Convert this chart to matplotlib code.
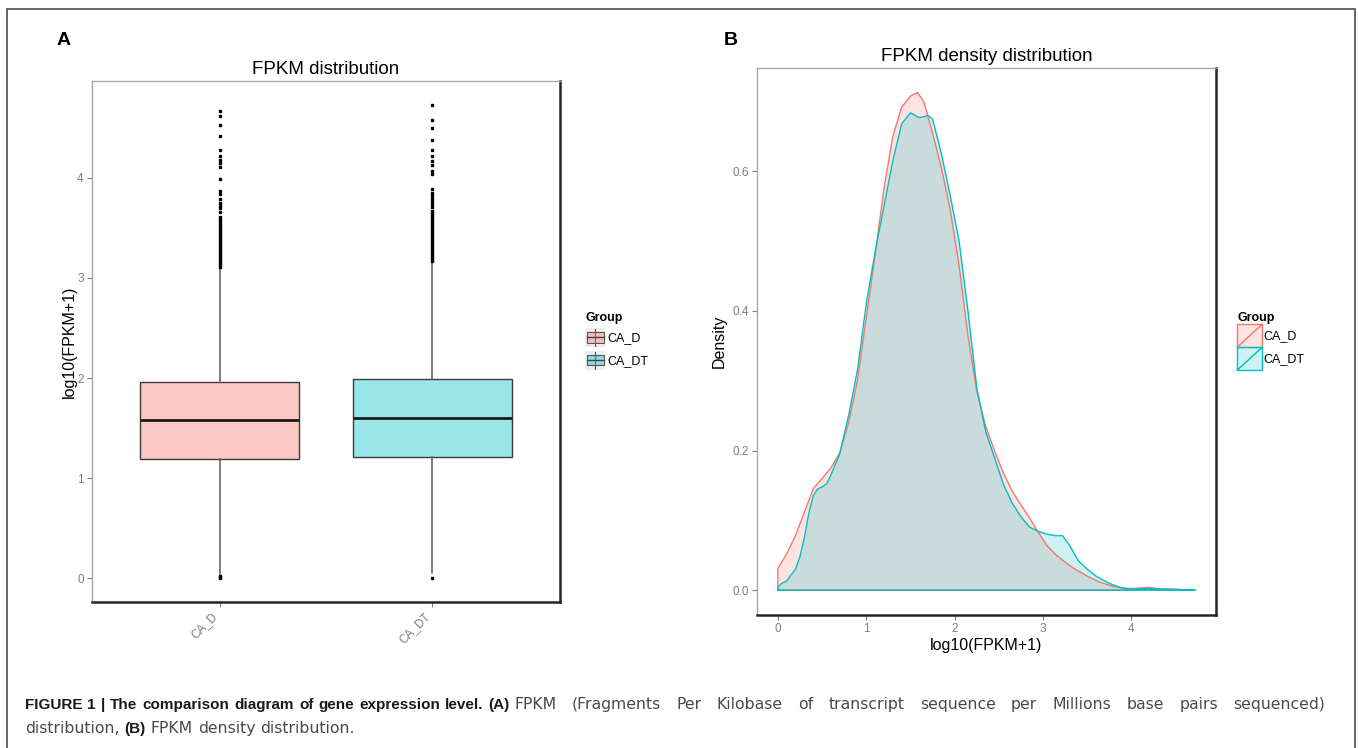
"""FPKM distribution (box) and density comparison for CA_D vs CA_DT."""

import matplotlib
matplotlib.use('Agg')
import matplotlib.pyplot as plt
import numpy as np
from matplotlib.legend_handler import HandlerBase
from matplotlib.lines import Line2D
from matplotlib.patches import Patch, Rectangle
from matplotlib.font_manager import fontManager


GROUPS = ['CA_D', 'CA_DT']
COLORS = {'CA_D': '#F8766D', 'CA_DT': '#00BFC4'}

# box summaries, log10(FPKM+1)
BOX_MED = [1.578, 1.598]
BOX_Q1 = [1.190, 1.209]
BOX_Q3 = [1.957, 1.990]
WHIS_LO = [0.045, 0.050]
WHIS_HI = [3.100, 3.155]

FLIERS_D = [0.0, 0.012, 0.025,
            3.11, 3.13, 3.15, 3.17, 3.19, 3.21, 3.23, 3.25, 3.27, 3.29, 3.31, 3.33, 3.35,
            3.37, 3.39, 3.41, 3.43, 3.45, 3.47, 3.49, 3.51, 3.53, 3.55, 3.57, 3.59, 3.61,
            3.66, 3.70, 3.72, 3.75, 3.79, 3.84, 3.87, 3.99, 4.11, 4.15, 4.18, 4.22,
            4.28, 4.42, 4.53, 4.62, 4.67]
FLIERS_DT = [0.0,
             3.17, 3.19, 3.21, 3.23, 3.25, 3.27, 3.29, 3.31, 3.33, 3.35, 3.37, 3.39, 3.41,
             3.43, 3.45, 3.47, 3.49, 3.51, 3.53, 3.55, 3.57, 3.59, 3.61, 3.63, 3.65, 3.67,
             3.71, 3.74, 3.77, 3.80, 3.83, 3.85, 3.89, 4.04, 4.07, 4.13, 4.17, 4.22,
             4.28, 4.38, 4.50, 4.58, 4.73]

# density curves
DENS_X_D = [0.00, 0.10, 0.20, 0.30, 0.40, 0.50, 0.60, 0.70, 0.80, 0.90, 1.00, 1.10,
            1.20, 1.30, 1.40, 1.50, 1.58, 1.65, 1.75, 1.85, 1.95, 2.05, 2.15, 2.25,
            2.35, 2.45, 2.55, 2.65, 2.75, 2.85, 2.95, 3.05, 3.15, 3.25, 3.35, 3.50,
            3.65, 3.80, 3.95, 4.10, 4.20, 4.30, 4.50, 4.72]
DENS_Y_D = [0.031, 0.052, 0.078, 0.112, 0.145, 0.160, 0.175, 0.197, 0.240, 0.300, 0.390, 0.480,
            0.575, 0.650, 0.692, 0.708, 0.713, 0.700, 0.655, 0.605, 0.545, 0.465, 0.365, 0.285,
            0.235, 0.200, 0.168, 0.142, 0.122, 0.103, 0.082, 0.063, 0.050, 0.040, 0.031, 0.020,
            0.011, 0.005, 0.002, 0.003, 0.004, 0.002, 0.001, 0.000]
DENS_X_DT = [0.00, 0.05, 0.10, 0.15, 0.20, 0.25, 0.30, 0.35, 0.40, 0.45, 0.50, 0.55,
             0.60, 0.70, 0.80, 0.90, 1.00, 1.10, 1.20, 1.30, 1.40, 1.50, 1.60, 1.70,
             1.75, 1.85, 1.95, 2.05, 2.15, 2.25, 2.35, 2.45, 2.55, 2.65, 2.75, 2.85,
             2.95, 3.05, 3.15, 3.22, 3.30, 3.40, 3.50, 3.60, 3.70, 3.80, 3.90, 4.00,
             4.20, 4.50, 4.72]
DENS_Y_DT = [0.005, 0.010, 0.013, 0.022, 0.030, 0.048, 0.075, 0.110, 0.135, 0.145, 0.148, 0.152,
             0.165, 0.195, 0.250, 0.315, 0.410, 0.485, 0.550, 0.615, 0.668, 0.684, 0.677, 0.680,
             0.675, 0.625, 0.565, 0.500, 0.400, 0.290, 0.228, 0.190, 0.152, 0.125, 0.105, 0.090,
             0.084, 0.080, 0.078, 0.078, 0.064, 0.042, 0.030, 0.020, 0.013, 0.007, 0.003, 0.002,
             0.002, 0.001, 0.000]

BOX_YTICKS = [0, 1, 2, 3, 4]
DENS_XTICKS = [0, 1, 2, 3, 4]
DENS_YTICKS = [0.0, 0.2, 0.4, 0.6]

CAPTION_LINE1 = [('FIGURE 1 | The comparison diagram of gene expression level.', 'bold'),
                 ('(A)', 'bold'),
                 ('FPKM (Fragments Per Kilobase of transcript sequence per Millions base pairs sequenced)', 'normal')]
CAPTION_LINE2 = [('distribution,', 'normal'), ('(B)', 'bold'), ('FPKM density distribution.', 'normal')]

W, H = 1358, 748
TICK_GREY = '#7f7f7f'

_names = {f.name for f in fontManager.ttflist}
FONT = 'Liberation Sans' if 'Liberation Sans' in _names else 'DejaVu Sans'
plt.rcParams['font.family'] = [FONT, 'DejaVu Sans']


def px(x, y):
    """pixel position (from top-left) -> figure fraction"""
    return x / W, 1 - y / H


def style_axes(ax):
    for side in ('top', 'left'):
        ax.spines[side].set_color('#a8a8a8')
        ax.spines[side].set_linewidth(1.0)
    for side in ('right', 'bottom'):
        ax.spines[side].set_color('#262626')
        ax.spines[side].set_linewidth(1.8)
    ax.tick_params(colors=TICK_GREY, labelcolor=TICK_GREY, labelsize=8.5,
                   length=3.5, width=0.8, pad=2.5)


def padded(lo, hi, frac=0.05):
    span = hi - lo
    return lo - frac * span, hi + frac * span


class BoxKey(HandlerBase):
    def create_artists(self, legend, orig_handle, xdescent, ydescent, width, height, fontsize, trans):
        x0, y0 = -xdescent, -ydescent
        fc = orig_handle.get_facecolor()
        bg = Rectangle((x0, y0), width, height, facecolor='#eeeeee', edgecolor='none', transform=trans)
        cx = x0 + width / 2
        whisk = Line2D([cx, cx], [y0 + height * 0.05, y0 + height * 0.95], color='#555555', lw=0.8,
                       transform=trans)
        box = Rectangle((x0 + width * 0.08, y0 + height * 0.22), width * 0.84, height * 0.56,
                        facecolor=fc, edgecolor='#555555', lw=0.8, transform=trans)
        med = Line2D([x0 + width * 0.08, x0 + width * 0.92], [y0 + height / 2] * 2,
                     color='#444444', lw=1.0, transform=trans)
        return [bg, whisk, box, med]


class DensityKey(HandlerBase):
    def create_artists(self, legend, orig_handle, xdescent, ydescent, width, height, fontsize, trans):
        x0, y0 = -xdescent, -ydescent
        col = orig_handle.get_edgecolor()
        rect = Rectangle((x0, y0), width, height, facecolor=col[:3] + (0.2,),
                         edgecolor=col, lw=1.0, transform=trans)
        diag = Line2D([x0, x0 + width], [y0, y0 + height], color=col, lw=1.0, transform=trans)
        return [rect, diag]


fig = plt.figure(figsize=(W / 100, H / 100), dpi=100)
fig.patch.set_facecolor('white')

# outer frame
fig.patches.append(Rectangle(px(7, 760), (1355 - 7) / W, (760 - 9) / H, transform=fig.transFigure,
                             facecolor='none', edgecolor='#4d4d4d', lw=1.2))

# ---- panel A: boxplots ----
axA = fig.add_axes([92 / W, 1 - 602 / H, (560 - 92) / W, (602 - 81) / H])
fliers = [FLIERS_D, FLIERS_DT]
stats = []
for i, g in enumerate(GROUPS):
    stats.append({'med': BOX_MED[i], 'q1': BOX_Q1[i], 'q3': BOX_Q3[i],
                  'whislo': WHIS_LO[i], 'whishi': WHIS_HI[i], 'fliers': np.array(fliers[i]),
                  'label': g})
positions = np.arange(1, len(GROUPS) + 1)
bp = axA.bxp(stats, positions=positions, widths=0.75, patch_artist=True, showcaps=False,
             boxprops={'edgecolor': '#3a3a3a', 'linewidth': 1.0},
             whiskerprops={'color': '#5a5a5a', 'linewidth': 1.1},
             medianprops={'color': '#1a1a1a', 'linewidth': 2.0},
             flierprops={'marker': 's', 'markersize': 1.6, 'markerfacecolor': 'black',
                         'markeredgecolor': 'black', 'linestyle': 'none'})
for patch, g in zip(bp['boxes'], GROUPS):
    r, gg, b, _ = matplotlib.colors.to_rgba(COLORS[g])
    patch.set_facecolor((r, gg, b, 0.4))
all_vals = [v for f in fliers for v in f] + WHIS_LO + WHIS_HI
axA.set_ylim(*padded(min(all_vals), max(all_vals)))
axA.set_xlim(0.4, len(GROUPS) + 0.6)
axA.set_yticks(BOX_YTICKS)
axA.set_yticklabels([str(t) for t in BOX_YTICKS])
axA.set_xticks(positions)
axA.set_xticklabels(GROUPS, rotation=45, ha='right', va='top')
style_axes(axA)
axA.set_title('FPKM distribution', fontsize=13.5, pad=5)
axA.set_ylabel('log10(FPKM+1)', fontsize=11.5, labelpad=0)

axA.legend([Patch(facecolor=COLORS[g] + '66') for g in GROUPS], GROUPS, title='Group',
           handler_map={Patch: BoxKey()}, loc='upper left',
           bbox_to_anchor=px(579, 306), bbox_transform=fig.transFigure,
           frameon=False, fontsize=9, borderpad=0, handlelength=1.6, handleheight=1.95,
           handletextpad=0.15, labelspacing=0.3, alignment='left',
           title_fontproperties={'weight': 'bold', 'size': 9})

# ---- panel B: densities ----
axB = fig.add_axes([757 / W, 1 - 615 / H, (1216 - 757) / W, (615 - 67.7) / H])
curves = [(DENS_X_D, DENS_Y_D), (DENS_X_DT, DENS_Y_DT)]
for g, (xs, ys) in zip(GROUPS, curves):
    xs = np.asarray(xs)
    ys = np.asarray(ys)
    axB.fill_between(xs, 0, ys, color=COLORS[g], alpha=0.2, lw=0)
    ox = np.concatenate([[xs[0]], xs, [xs[-1], xs[0]]])
    oy = np.concatenate([[0], ys, [0, 0]])
    axB.plot(ox, oy, color=COLORS[g], lw=1.0, solid_joinstyle='round')
xmin = min(min(c[0]) for c in curves)
xmax = max(max(c[0]) for c in curves)
ymax = max(max(c[1]) for c in curves)
axB.set_xlim(*padded(xmin, xmax))
axB.set_ylim(*padded(0, ymax))
axB.set_xticks(DENS_XTICKS)
axB.set_xticklabels([str(t) for t in DENS_XTICKS])
axB.set_yticks(DENS_YTICKS)
axB.set_yticklabels([f'{t:.1f}' for t in DENS_YTICKS])
style_axes(axB)
axB.set_title('FPKM density distribution', fontsize=13.5, pad=5)
axB.set_xlabel('log10(FPKM+1)', fontsize=11.5, labelpad=2)
axB.set_ylabel('Density', fontsize=11.5, labelpad=4)

axB.legend([Patch(edgecolor=COLORS[g]) for g in GROUPS], GROUPS, title='Group',
           handler_map={Patch: DensityKey()}, loc='upper left',
           bbox_to_anchor=px(1231, 306), bbox_transform=fig.transFigure,
           frameon=False, fontsize=9, borderpad=0, handlelength=2.0, handleheight=2.45,
           handletextpad=0.1, labelspacing=0.0, alignment='left',
           title_fontproperties={'weight': 'bold', 'size': 9})

# panel letters
fig.text(*px(57, 45), 'A', fontsize=14, fontweight='bold', color='black', va='baseline')
fig.text(*px(724, 45), 'B', fontsize=14, fontweight='bold', color='black', va='baseline')

# ---- caption (plain-text part of line 1 is justified to the right margin) ----
renderer = fig.canvas.get_renderer()
CAP_FONTS = {'bold': dict(family=[FONT, 'DejaVu Sans'], fontsize=11.0, fontweight='bold', color='#1a1a1a'),
             'normal': dict(family=['DejaVu Sans'], fontsize=11.3, fontweight='normal', color='#4a4a4a')}


def text_width(s, weight):
    t = fig.text(0, 0, s, **CAP_FONTS[weight])
    w = t.get_window_extent(renderer=renderer).width
    t.remove()
    return w


def caption_line(x_px, y_px, parts, right_px=None):
    words = [(w, weight) for s, weight in parts for w in s.split(' ')]
    widths = [text_width(w, weight) for w, weight in words]
    space = text_width('x x', 'normal') - text_width('xx', 'normal')
    gaps = [space] * (len(words) - 1)
    if right_px is not None:
        stretch = [i for i in range(len(gaps)) if words[i][1] == 'normal']
        extra = right_px - x_px - sum(widths) - sum(gaps)
        if stretch and extra > 0:
            for i in stretch:
                gaps[i] += extra / len(stretch)
    x = x_px
    for i, ((w, weight), wd) in enumerate(zip(words, widths)):
        fig.text(x / W, 1 - y_px / H, w, va='baseline', ha='left', **CAP_FONTS[weight])
        if i < len(gaps):
            x += wd + gaps[i]


caption_line(25, 709, CAPTION_LINE1, right_px=1325)
caption_line(25, 733, CAPTION_LINE2)

fig.savefig('out.png', dpi=100)
